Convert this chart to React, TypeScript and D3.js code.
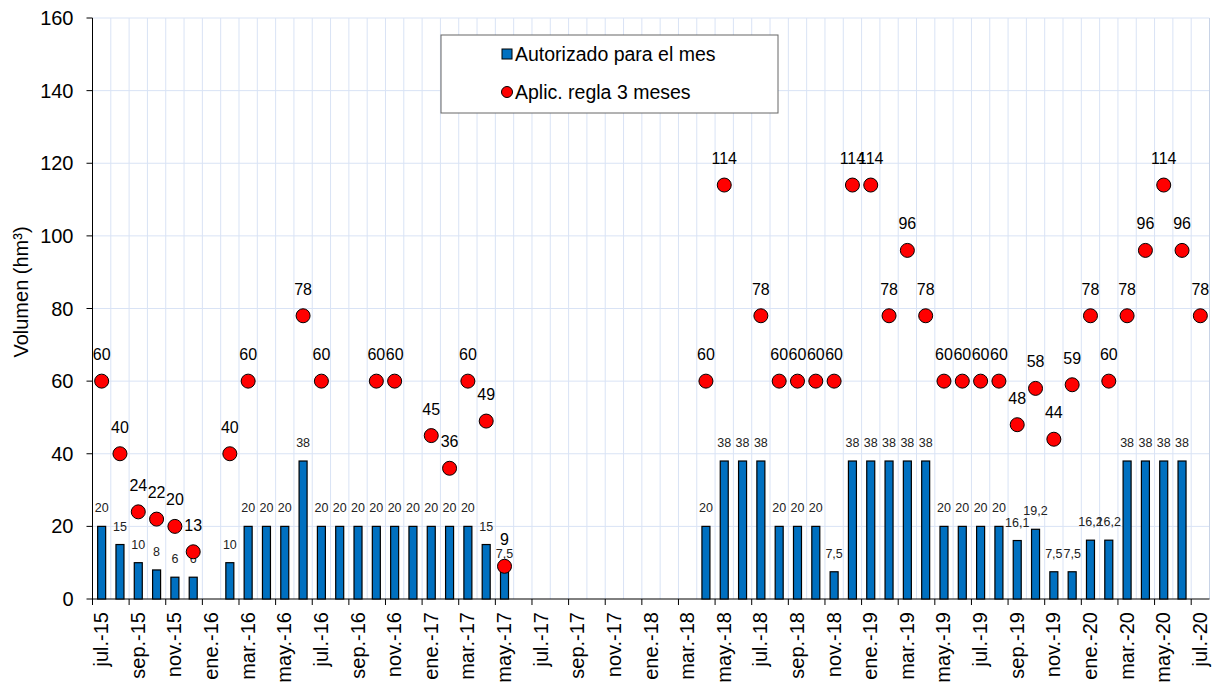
import React from "react";
import * as d3 from "d3";

const months: string[] = [
  "2015-07","2015-08","2015-09","2015-10","2015-11","2015-12",
  "2016-01","2016-02","2016-03","2016-04","2016-05","2016-06",
  "2016-07","2016-08","2016-09","2016-10","2016-11","2016-12",
  "2017-01","2017-02","2017-03","2017-04","2017-05","2017-06",
  "2017-07","2017-08","2017-09","2017-10","2017-11","2017-12",
  "2018-01","2018-02","2018-03","2018-04","2018-05","2018-06",
  "2018-07","2018-08","2018-09","2018-10","2018-11","2018-12",
  "2019-01","2019-02","2019-03","2019-04","2019-05","2019-06",
  "2019-07","2019-08","2019-09","2019-10","2019-11","2019-12",
  "2020-01","2020-02","2020-03","2020-04","2020-05","2020-06",
  "2020-07",
];

const autorizado: (number | null)[] = [
  20, 15, 10, 8, 6, 6,
  null, 10, 20, 20, 20, 38,
  20, 20, 20, 20, 20, 20,
  20, 20, 20, 15, 7.5, null,
  null, null, null, null, null, null,
  null, null, null, 20, 38, 38,
  38, 20, 20, 20, 7.5, 38,
  38, 38, 38, 38, 20, 20,
  20, 20, 16.1, 19.2, 7.5, 7.5,
  16.2, 16.2, 38, 38, 38, 38,
  null,
];

const regla3: (number | null)[] = [
  60, 40, 24, 22, 20, 13,
  null, 40, 60, null, null, 78,
  60, null, null, 60, 60, null,
  45, 36, 60, 49, 9, null,
  null, null, null, null, null, null,
  null, null, null, 60, 114, null,
  78, 60, 60, 60, 60, 114,
  114, 78, 96, 78, 60, 60,
  60, 60, 48, 58, 44, 59,
  78, 60, 78, 96, 114, 96,
  78,
];

const tickLabels: string[] = [
  "jul.-15","sep.-15","nov.-15","ene.-16","mar.-16","may.-16",
  "jul.-16","sep.-16","nov.-16","ene.-17","mar.-17","may.-17",
  "jul.-17","sep.-17","nov.-17","ene.-18","mar.-18","may.-18",
  "jul.-18","sep.-18","nov.-18","ene.-19","mar.-19","may.-19",
  "jul.-19","sep.-19","nov.-19","ene.-20","mar.-20","may.-20",
  "jul.-20",
];

const yTicks: number[] = [0, 20, 40, 60, 80, 100, 120, 140, 160];

const FONT = "'Liberation Sans', Arial, sans-serif";

export default function App() {
  const W = 1213, H = 691;
  const left = 92.5, right = 1209.5, top = 18, bottom = 599;

  const x = d3.scaleBand<string>().domain(months).range([left, right]).padding(0);
  const y = d3.scaleLinear().domain([0, 160]).range([bottom, top]);
  const bw = x.bandwidth();
  const barW = 8;
  const fmt = (v: number) => String(v).replace(".", ",");

  return (
    <svg width={W} height={H} style={{ position: "absolute", left: 0, top: 0, background: "#fff" }} fontFamily={FONT}>
      <rect x={0} y={0} width={W} height={H} fill="#fff" />
      {/* vertical gridlines */}
      {months.map((m, i) => (
        <line key={"vg" + i} x1={(x(m) as number) + bw} x2={(x(m) as number) + bw} y1={top} y2={bottom} stroke="#d9e3f5" strokeWidth={1} />
      ))}
      {/* horizontal gridlines */}
      {yTicks.filter((t) => t > 0).map((t) => (
        <line key={"hg" + t} x1={left} x2={right} y1={y(t)} y2={y(t)} stroke="#d9e3f5" strokeWidth={1} />
      ))}
      <line x1={right} x2={right} y1={top} y2={bottom} stroke="#c8d3e6" />
      {/* axes */}
      <line x1={left} x2={left} y1={top} y2={bottom} stroke="#000" strokeWidth={1} />
      <line x1={left} x2={right} y1={bottom} y2={bottom} stroke="#000" strokeWidth={1} />
      {yTicks.map((t) => (
        <g key={"yt" + t}>
          <line x1={left - 6} x2={left} y1={y(t)} y2={y(t)} stroke="#000" />
          <text x={left - 19} y={y(t)} dy="0.35em" textAnchor="end" fontSize={20} fill="#000">{t}</text>
        </g>
      ))}
      {months.map((m, i) =>
        i % 2 === 0 ? (
          <g key={"xt" + i}>
            <line x1={x(m) as number} x2={x(m) as number} y1={bottom} y2={bottom + 6} stroke="#000" />
            <text
              transform={`translate(${(x(m) as number) + bw / 2 - 0.5},${bottom + 13}) rotate(-90)`}
              textAnchor="end"
              dy="0.35em"
              fontSize={20}
              fill="#000"
            >
              {tickLabels[i / 2]}
            </text>
          </g>
        ) : null
      )}
      <text transform={`translate(28,292) rotate(-90)`} textAnchor="middle" fontSize={20} fill="#000">
        Volumen (hm³)
      </text>
      {/* bars */}
      {months.map((m, i) => {
        const v = autorizado[i];
        if (v == null) return null;
        const cx = (x(m) as number) + bw / 2;
        return (
          <g key={"b" + i}>
            <rect x={cx - barW / 2} y={y(v)} width={barW} height={bottom - y(v)} fill="#0070c0" stroke="#000" strokeWidth={1.2} />
            <text x={cx} y={y(v) - 14} textAnchor="middle" fontSize={12.5} fill="#222">{fmt(v)}</text>
          </g>
        );
      })}
      {/* dots */}
      {months.map((m, i) => {
        const v = regla3[i];
        if (v == null) return null;
        const cx = (x(m) as number) + bw / 2;
        return (
          <g key={"d" + i}>
            <circle cx={cx} cy={y(v)} r={7} fill="#ff0000" stroke="#000" strokeWidth={1} />
            <text x={cx} y={y(v) - 21} textAnchor="middle" fontSize={16} fill="#000">{fmt(v)}</text>
          </g>
        );
      })}
      {/* legend */}
      <rect x={441} y={35} width={337} height={78} fill="#fff" stroke="#666" strokeWidth={1} />
      <rect x={502} y={49} width={10} height={10} fill="#0070c0" stroke="#000" strokeWidth={1} />
      <text x={515} y={54} dy="0.35em" fontSize={19.5} fill="#000">Autorizado para el mes</text>
      <circle cx={507} cy={92} r={5.5} fill="#ff0000" stroke="#000" strokeWidth={1} />
      <text x={515} y={92} dy="0.35em" fontSize={19.5} fill="#000">Aplic. regla 3 meses</text>
    </svg>
  );
}
